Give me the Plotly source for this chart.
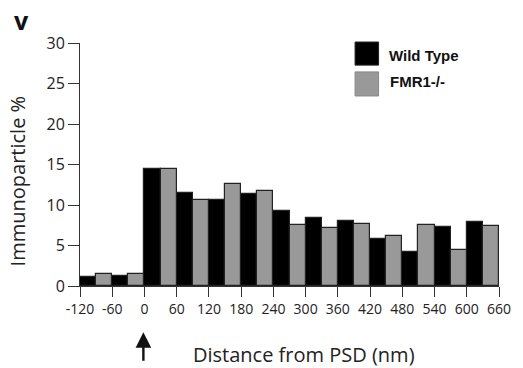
import plotly.graph_objects as go

bin_starts = [-120, -60, 0, 60, 120, 180, 240, 300, 360, 420, 480, 540, 600]
wild_type = [1.15, 1.25, 14.4, 11.5, 10.6, 11.4, 9.2, 8.35, 8.0, 5.75, 4.25, 7.3, 7.9]
fmr1_ko = [1.5, 1.5, 14.4, 10.6, 12.55, 11.7, 7.5, 7.1, 7.65, 6.2, 7.5, 4.5, 7.4]
x_ticks = list(range(-120, 661, 60))
y_ticks = [0, 5, 10, 15, 20, 25, 30]

centers = [s + 30 for s in bin_starts]

fig = go.Figure()
fig.add_trace(go.Bar(x=centers, y=wild_type, name="Wild Type",
                     marker=dict(color="#000000", line=dict(color="#222222", width=1.2))))
fig.add_trace(go.Bar(x=centers, y=fmr1_ko, name="FMR1-/-",
                     marker=dict(color="#999999", line=dict(color="#222222", width=1.2))))

font_family = "Open Sans"
fig.update_layout(
    width=523, height=368,
    margin=dict(l=80, r=15, t=43, b=82),
    paper_bgcolor="white", plot_bgcolor="white",
    barmode="group", bargap=0, bargroupgap=0,
    showlegend=False,
    font=dict(family=font_family, color="#222222"),
)
fig.update_xaxes(range=[-120, 660], tickvals=x_ticks, ticktext=[str(v) for v in x_ticks],
                 ticks="outside", ticklen=10, tickwidth=1, tickcolor="#333",
                 showline=True, linecolor="#333", linewidth=1, showgrid=False, zeroline=False,
                 tickfont=dict(size=14, family=font_family, color="#222"))
fig.update_yaxes(range=[0, 30], tickvals=y_ticks, ticks="outside", ticklen=11, tickwidth=1,
                 tickcolor="#333", showline=True, linecolor="#333", linewidth=1,
                 showgrid=False, zeroline=False,
                 tickfont=dict(size=16, family=font_family, color="#222"))

# Legend (manual)
fig.add_shape(type="rect", xref="paper", yref="paper", x0=0.6565, x1=0.7126, y0=0.909, y1=1.004,
              fillcolor="#000000", line=dict(color="#222", width=1))
fig.add_shape(type="rect", xref="paper", yref="paper", x0=0.6565, x1=0.7126, y0=0.782, y1=0.881,
              fillcolor="#999999", line=dict(color="#888", width=1))
fig.add_annotation(text="<b>Wild Type</b>", xref="paper", yref="paper", x=0.7336, y=0.9506,
                   xanchor="left", yanchor="middle", showarrow=False,
                   font=dict(size=15, family="Liberation Sans", color="#111"))
fig.add_annotation(text="<b>FMR1-/-</b>", xref="paper", yref="paper", x=0.7360, y=0.8436,
                   xanchor="left", yanchor="middle", showarrow=False,
                   font=dict(size=15, family="Liberation Sans", color="#111"))

# Axis titles
fig.add_annotation(text="Distance from PSD (nm)", xref="paper", yref="paper", x=0.535, y=-0.283,
                   xanchor="center", yanchor="middle", showarrow=False,
                   font=dict(size=20, family=font_family, color="#222"))
fig.add_annotation(text="Immunoparticle %", xref="paper", yref="paper", x=-0.1495, y=0.432,
                   xanchor="center", yanchor="middle", showarrow=False, textangle=-90,
                   font=dict(size=20, family=font_family, color="#222"))
# Panel label
fig.add_annotation(text="<b>v</b>", xref="paper", yref="paper", x=-0.140, y=1.0947,
                   xanchor="center", yanchor="middle", showarrow=False,
                   font=dict(size=25, family=font_family, color="#111"))
# Arrow at 0
fig.add_annotation(x=-2, xref="x", y=-0.19, yref="paper", text="", showarrow=True,
                   ax=0, ay=30, arrowhead=2, arrowsize=1.3, arrowwidth=2.4, arrowcolor="#111")

fig.write_html("out.html")
